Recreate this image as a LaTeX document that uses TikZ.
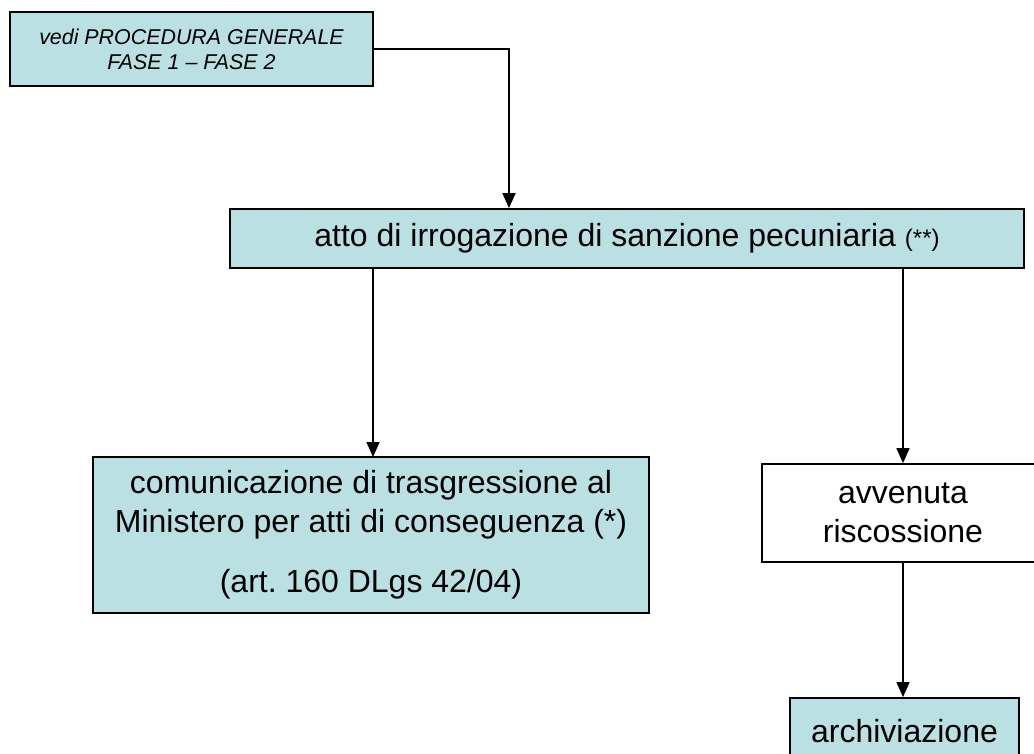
\documentclass[tikz,border=0pt]{standalone}
\usepackage{fontspec}
\setmainfont{Liberation Sans}
\usetikzlibrary{arrows.meta,positioning}
\definecolor{boxteal}{HTML}{BBE0E3}
\frenchspacing

\begin{document}
\begin{tikzpicture}[x=1pt,y=-1pt]
	\tikzstyle{phase}=[draw=black,line width=1.8pt,fill=boxteal,inner sep=0pt,align=center,font=\fontsize{32}{39}\selectfont]
	\tikzstyle{outcome}=[phase,fill=white]
	\tikzstyle{link}=[line width=1.6pt,arrows={-Triangle[width=13pt,length=15pt]}]

	\useasboundingbox (0,0) rectangle (1034,753);
	\fill[white] (0,0) rectangle (1034,753);

	\node[phase,minimum width=363pt,minimum height=74pt,font=\fontsize{21.4}{25}\selectfont\itshape] (vedi) at (191.5,49) {vedi PROCEDURA GENERALE\\FASE 1 -- FASE 2};
	\node[phase,minimum width=794pt,minimum height=59pt] (atto) at (627,238.5) {atto di irrogazione di sanzione pecuniaria {\fontsize{24}{28}\selectfont(**)}};
	\node[phase,minimum width=556pt,minimum height=156pt] (comunica) at (371,535) {comunicazione di trasgressione al\\Ministero per atti di conseguenza (*)\\[21pt](art. 160 DLgs 42/04)};
	\node[outcome,minimum width=282pt,minimum height=98pt] (riscossa) at (903,513) {avvenuta\\riscossione};
	\node[phase,minimum width=229pt,minimum height=66pt] (archivio) at (904.5,731) {archiviazione};

	\coordinate (knee) at (509,49);
	\draw[link] (vedi.east) -- (knee) -- (knee |- atto.north);
	\draw[link] (atto.south -| 373,0) -- (373,457);
	\draw[link] (atto.south -| riscossa.north) -- (riscossa.north);
	\draw[link] (riscossa.south) -- (riscossa.south |- archivio.north);
\end{tikzpicture}
\end{document}
